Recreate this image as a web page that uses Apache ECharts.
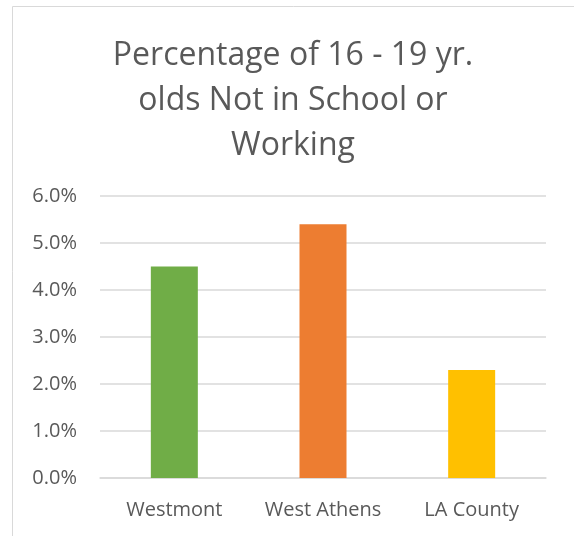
<!DOCTYPE html>
<html>
<head>
<meta charset="utf-8">
<style>
  html, body { margin: 0; padding: 0; background: #fff; }
  #chart { width: 574px; height: 536px; }
</style>
<script src="https://cdn.jsdelivr.net/npm/echarts@6/dist/echarts.min.js"></script>
</head>
<body>
<div id="chart"></div>
<script>
var categories = ["Westmont", "West Athens", "LA County"];
var values = [4.5, 5.4, 2.3];
var barColors = ["#70AD47", "#ED7D31", "#FFC000"];
var yTicks = [0, 1, 2, 3, 4, 5, 6];

var myChart = echarts.init(document.getElementById("chart"));

var data = [];
for (let i = 0; i < values.length; i++) {
  data.push({
    value: values[i],
    itemStyle: { color: barColors[i] }
  });
}

var option = {
  animation: false,
  textStyle: { fontFamily: "Open Sans" },
  graphic: [
    {
      type: "rect",
      shape: { x: 12.5, y: 6.5, width: 580, height: 560 },
      style: { fill: null, stroke: "#d9d9d9", lineWidth: 1 },
      silent: true
    }
  ],
  title: {
    text: "Percentage of 16 - 19 yr.\nolds Not in School or\nWorking",
    left: 288,
    top: 28,
    textAlign: "center",
    textStyle: {
      color: "#595959",
      fontSize: 32,
      fontWeight: "normal",
      lineHeight: 45,
      fontFamily: "Open Sans"
    }
  },
  grid: {
    left: 100,
    right: 28,
    top: 196,
    bottom: 58,
    containLabel: false
  },
  xAxis: {
    type: "category",
    data: categories,
    axisLine: { show: true, lineStyle: { color: "#d9d9d9", width: 1.5 } },
    axisTick: { show: false },
    axisLabel: {
      color: "#595959",
      fontSize: 20,
      margin: 22,
      interval: 0,
      fontFamily: "Open Sans"
    }
  },
  yAxis: {
    type: "value",
    min: yTicks[0],
    max: yTicks[yTicks.length - 1],
    interval: 1,
    axisLine: { show: false },
    axisTick: { show: false },
    splitLine: { lineStyle: { color: "#d9d9d9", width: 1.5 } },
    axisLabel: {
      color: "#595959",
      fontSize: 20,
      margin: 23,
      fontFamily: "Open Sans",
      formatter: function (v) { return v.toFixed(1) + "%"; }
    }
  },
  series: [
    {
      type: "bar",
      data: data,
      barWidth: 47
    }
  ]
};

myChart.setOption(option, true);
</script>
</body>
</html>
